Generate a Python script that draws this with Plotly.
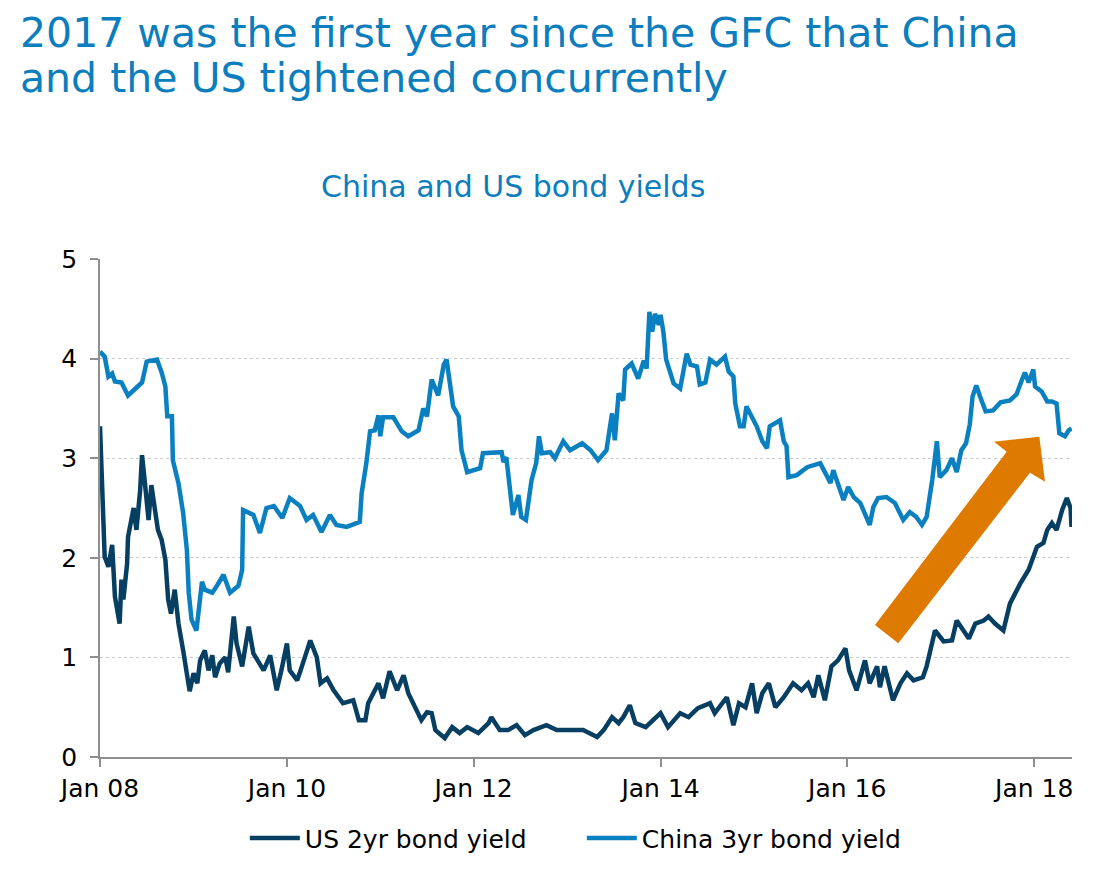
from datetime import datetime, timedelta

import plotly.graph_objects as go

# values, time as decimal year
us_t = [
    2008.00, 2008.02, 2008.04, 2008.05, 2008.09, 2008.13, 2008.16, 2008.21, 2008.23, 2008.25,
    2008.29, 2008.30, 2008.36, 2008.39, 2008.43, 2008.45, 2008.48, 2008.52, 2008.55, 2008.59,
    2008.62, 2008.66, 2008.70, 2008.73, 2008.76, 2008.80, 2008.84, 2008.89, 2008.93, 2008.96,
    2009.00, 2009.04, 2009.07, 2009.12, 2009.16, 2009.20, 2009.23, 2009.28, 2009.34, 2009.37,
    2009.43, 2009.46, 2009.52, 2009.59, 2009.64, 2009.69, 2009.75, 2009.82, 2009.89, 2009.94,
    2010.00, 2010.03, 2010.11, 2010.16, 2010.25, 2010.32, 2010.36, 2010.43, 2010.50, 2010.60,
    2010.71, 2010.77, 2010.84, 2010.87, 2010.93, 2010.98, 2011.03, 2011.10, 2011.18, 2011.25,
    2011.30, 2011.37, 2011.44, 2011.50, 2011.55, 2011.59, 2011.69, 2011.77, 2011.85, 2011.93,
    2012.05, 2012.16, 2012.19, 2012.28, 2012.37, 2012.46, 2012.55, 2012.64, 2012.78, 2012.89,
    2013.03, 2013.17, 2013.32, 2013.39, 2013.48, 2013.55, 2013.60, 2013.67, 2013.73, 2013.84,
    2014.00, 2014.08, 2014.21, 2014.30, 2014.40, 2014.53, 2014.58, 2014.71, 2014.78, 2014.84,
    2014.91, 2014.98, 2015.03, 2015.09, 2015.16, 2015.23, 2015.32, 2015.42, 2015.51, 2015.58,
    2015.64, 2015.69, 2015.76, 2015.83, 2015.90, 2015.98, 2016.02, 2016.10, 2016.19, 2016.24,
    2016.32, 2016.35, 2016.40, 2016.49, 2016.57, 2016.64, 2016.71, 2016.81, 2016.85, 2016.91,
    2016.94, 2017.03, 2017.12, 2017.17, 2017.24, 2017.30, 2017.37, 2017.46, 2017.51, 2017.58,
    2017.67, 2017.74, 2017.85, 2017.94, 2018.03, 2018.10, 2018.14, 2018.19, 2018.24, 2018.30,
    2018.35, 2018.39, 2018.40,
]
us_yield = [
    3.32, 2.76, 2.35, 2.01, 1.91, 2.13, 1.61, 1.34, 1.78, 1.58,
    1.94, 2.21, 2.50, 2.28, 2.68, 3.03, 2.76, 2.38, 2.73, 2.51,
    2.28, 2.18, 1.98, 1.58, 1.44, 1.68, 1.34, 1.07, 0.87, 0.66,
    0.84, 0.74, 0.97, 1.07, 0.87, 1.02, 0.80, 0.94, 1.00, 0.85,
    1.41, 1.14, 0.91, 1.31, 1.04, 0.97, 0.87, 1.02, 0.67, 0.87,
    1.14, 0.87, 0.77, 0.91, 1.17, 1.00, 0.74, 0.79, 0.67, 0.54,
    0.57, 0.37, 0.37, 0.54, 0.64, 0.74, 0.59, 0.86, 0.67, 0.82,
    0.64, 0.51, 0.37, 0.45, 0.44, 0.27, 0.19, 0.30, 0.24, 0.30,
    0.24, 0.34, 0.40, 0.27, 0.27, 0.32, 0.22, 0.27, 0.32, 0.27,
    0.27, 0.27, 0.20, 0.27, 0.40, 0.34, 0.40, 0.52, 0.34, 0.30,
    0.44, 0.30, 0.44, 0.40, 0.49, 0.54, 0.44, 0.60, 0.32, 0.54,
    0.50, 0.74, 0.44, 0.64, 0.74, 0.50, 0.60, 0.74, 0.67, 0.74,
    0.60, 0.82, 0.57, 0.91, 0.97, 1.09, 0.87, 0.67, 0.97, 0.74,
    0.91, 0.70, 0.91, 0.57, 0.74, 0.84, 0.77, 0.80, 0.91, 1.17,
    1.27, 1.16, 1.17, 1.37, 1.27, 1.19, 1.34, 1.37, 1.41, 1.34,
    1.27, 1.54, 1.74, 1.88, 2.11, 2.15, 2.28, 2.35, 2.28, 2.48,
    2.60, 2.50, 2.31,
]

china_t = [
    2008.00, 2008.05, 2008.09, 2008.13, 2008.16, 2008.23, 2008.30, 2008.39, 2008.45, 2008.50,
    2008.61, 2008.66, 2008.70, 2008.72, 2008.77, 2008.78, 2008.84, 2008.89, 2008.93, 2008.95,
    2008.98, 2009.03, 2009.05, 2009.09, 2009.12, 2009.20, 2009.25, 2009.32, 2009.39, 2009.48,
    2009.52, 2009.53, 2009.64, 2009.71, 2009.78, 2009.86, 2009.95, 2010.03, 2010.14, 2010.21,
    2010.28, 2010.37, 2010.46, 2010.53, 2010.64, 2010.78, 2010.80, 2010.85, 2010.89, 2010.94,
    2010.98, 2011.00, 2011.03, 2011.14, 2011.23, 2011.30, 2011.41, 2011.46, 2011.50, 2011.55,
    2011.62, 2011.68, 2011.71, 2011.74, 2011.78, 2011.84, 2011.87, 2011.93, 2012.07, 2012.10,
    2012.30, 2012.32, 2012.35, 2012.39, 2012.42, 2012.48, 2012.51, 2012.56, 2012.62, 2012.67,
    2012.70, 2012.73, 2012.82, 2012.87, 2012.96, 2013.03, 2013.16, 2013.25, 2013.33, 2013.42,
    2013.48, 2013.51, 2013.55, 2013.60, 2013.62, 2013.69, 2013.76, 2013.82, 2013.85, 2013.88,
    2013.91, 2013.94, 2013.98, 2014.00, 2014.03, 2014.06, 2014.10, 2014.14, 2014.21, 2014.28,
    2014.32, 2014.39, 2014.42, 2014.48, 2014.53, 2014.60, 2014.69, 2014.73, 2014.78, 2014.80,
    2014.85, 2014.89, 2014.92, 2014.98, 2015.03, 2015.09, 2015.14, 2015.17, 2015.23, 2015.28,
    2015.32, 2015.35, 2015.37, 2015.46, 2015.57, 2015.71, 2015.76, 2015.82, 2015.85, 2015.90,
    2015.96, 2016.01, 2016.07, 2016.14, 2016.19, 2016.24, 2016.28, 2016.33, 2016.42, 2016.51,
    2016.60, 2016.67, 2016.74, 2016.80, 2016.85, 2016.91, 2016.96, 2016.99, 2017.06, 2017.12,
    2017.17, 2017.22, 2017.27, 2017.31, 2017.34, 2017.38, 2017.42, 2017.48, 2017.56, 2017.64,
    2017.74, 2017.81, 2017.87, 2017.90, 2017.94, 2017.99, 2018.01, 2018.08, 2018.14, 2018.19,
    2018.24, 2018.27, 2018.33, 2018.37, 2018.40,
]
china_yield = [
    4.07, 4.02, 3.82, 3.85, 3.77, 3.76, 3.63, 3.71, 3.76, 3.97,
    3.99, 3.86, 3.72, 3.42, 3.42, 2.98, 2.75, 2.45, 2.08, 1.65,
    1.38, 1.27, 1.47, 1.76, 1.68, 1.65, 1.72, 1.83, 1.65, 1.72,
    1.88, 2.48, 2.43, 2.25, 2.50, 2.52, 2.40, 2.60, 2.52, 2.38,
    2.43, 2.26, 2.43, 2.33, 2.31, 2.36, 2.65, 2.95, 3.27, 3.28,
    3.43, 3.22, 3.41, 3.41, 3.27, 3.22, 3.28, 3.50, 3.42, 3.79,
    3.63, 3.94, 3.99, 3.76, 3.52, 3.42, 3.08, 2.86, 2.90, 3.05,
    3.06, 2.96, 3.01, 2.68, 2.43, 2.63, 2.41, 2.38, 2.78, 2.95,
    3.22, 3.05, 3.06, 3.00, 3.17, 3.08, 3.15, 3.08, 2.98, 3.08,
    3.45, 3.18, 3.65, 3.58, 3.89, 3.95, 3.80, 3.98, 3.90, 4.47,
    4.27, 4.45, 4.34, 4.44, 4.27, 3.99, 3.87, 3.75, 3.70, 4.05,
    3.94, 3.92, 3.74, 3.76, 3.99, 3.94, 4.02, 3.87, 3.82, 3.55,
    3.32, 3.32, 3.52, 3.42, 3.32, 3.17, 3.10, 3.32, 3.35, 3.38,
    3.17, 3.12, 2.81, 2.83, 2.91, 2.95, 2.86, 2.75, 2.88, 2.75,
    2.58, 2.71, 2.61, 2.55, 2.45, 2.33, 2.51, 2.60, 2.61, 2.55,
    2.38, 2.46, 2.41, 2.33, 2.41, 2.78, 3.17, 2.81, 2.88, 3.00,
    2.86, 3.08, 3.15, 3.34, 3.62, 3.73, 3.62, 3.47, 3.48, 3.56,
    3.58, 3.64, 3.79, 3.86, 3.76, 3.89, 3.72, 3.67, 3.57, 3.57,
    3.55, 3.25, 3.22, 3.28, 3.30,
]

title_lines = [
    "2017 was the first year since the GFC that China",
    "and the US tightened concurrently",
]
subtitle = "China and US bond yields"

US_COLOR = "#073f62"
CHINA_COLOR = "#0a80c1"
TITLE_COLOR = "#0c7dbd"
FONT = "DejaVu Sans"


def to_date(t):
    year = int(t)
    return datetime(year, 1, 1) + timedelta(days=(t - year) * 365.25)


fig = go.Figure()
fig.add_trace(go.Scatter(
    x=[to_date(t) for t in us_t], y=us_yield, mode="lines",
    name="US 2yr bond yield", line=dict(color=US_COLOR, width=4.5),
))
fig.add_trace(go.Scatter(
    x=[to_date(t) for t in china_t], y=china_yield, mode="lines",
    name="China 3yr bond yield", line=dict(color=CHINA_COLOR, width=4.5),
))

# orange arrow, drawn in paper coordinates
arrow = [(0.7973, 0.2651), (0.9328, 0.6131), (0.9198, 0.6331), (0.9664, 0.6432),
         (0.9722, 0.5528), (0.9568, 0.5709), (0.8213, 0.2283)]
path = "M " + " L ".join(f"{x},{y}" for x, y in arrow) + " Z"
fig.add_shape(type="path", path=path, xref="paper", yref="paper",
              fillcolor="#df7a00", line=dict(width=0), layer="above")

# two title lines placed separately to get the tight line spacing
for text, ypos in zip(title_lines, [1.4538, 1.3635]):
    fig.add_annotation(
        text=text, xref="paper", yref="paper", x=-0.0845, y=ypos,
        xanchor="left", yanchor="middle", showarrow=False,
        font=dict(family=FONT, size=41, color=TITLE_COLOR),
    )

fig.add_annotation(
    text=subtitle, xref="paper", yref="paper",
    x=0.425, y=1.145, xanchor="center", yanchor="middle", showarrow=False,
    font=dict(family=FONT, size=30, color=TITLE_COLOR),
)

# page body has an 8px margin, so the figure is sized to sit inside the window
fig.update_layout(
    width=1099, height=869,
    margin=dict(l=92, r=35, t=251, b=120),
    paper_bgcolor="white", plot_bgcolor="white",
    font=dict(family=FONT, size=25, color="black"),
    showlegend=True,
    legend=dict(
        orientation="h", x=0.149, xanchor="left", y=-0.163, yanchor="middle",
        font=dict(family=FONT, size=25, color="black"),
        itemwidth=50, entrywidth=272, traceorder="normal",
    ),
    xaxis=dict(
        type="date", range=["2008-01-01", "2018-05-29"],
        tick0="2008-01-01", dtick="M24", tickformat="%b %y",
        showgrid=False, showline=True, linecolor="#8f8f8f", linewidth=2,
        ticks="outside", ticklen=8, tickwidth=2, tickcolor="#8f8f8f",
        zeroline=False,
    ),
    yaxis=dict(
        range=[0, 5], dtick=1, showgrid=True, gridcolor="#c9cdd2",
        griddash="dot", gridwidth=1, showline=True, linecolor="#8f8f8f",
        linewidth=2, ticks="outside", ticklen=8, tickwidth=2,
        tickcolor="#8f8f8f", zeroline=False, ticksuffix="\u00a0",
    ),
)

fig.write_html("out.html")
